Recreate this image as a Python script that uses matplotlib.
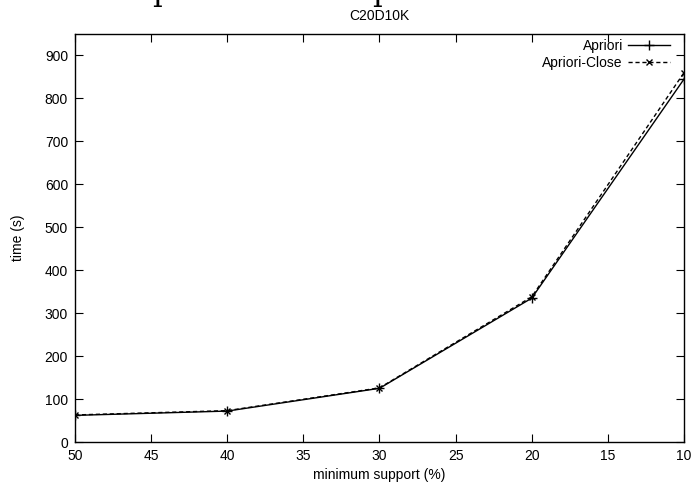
import matplotlib
matplotlib.use('Agg')
import matplotlib.pyplot as plt

support = [50, 40, 30, 20, 10]
apriori = [62, 72, 125, 335, 845]
apriori_close = [63, 73, 126, 338, 860]
xticks = [50, 45, 40, 35, 30, 25, 20, 15, 10]
yticks = [0, 100, 200, 300, 400, 500, 600, 700, 800, 900]

plt.rcParams['font.family'] = ['Liberation Sans', 'DejaVu Sans']
plt.rcParams['font.size'] = 10

fig = plt.figure(figsize=(6.94, 4.91), dpi=100)
ax = fig.add_axes([75/694, 49/491, 609/694, 408/491])

ax.plot(support, apriori, '-', color='black', lw=1.0, marker='+', ms=7, mew=1.0, label='Apriori')
ax.plot(support, apriori_close, '--', color='black', lw=1.0, dashes=(3, 2), marker='x', ms=5, mew=1.0,
        label='Apriori-Close')

ax.set_xlim(50, 10)
ax.set_ylim(0, 950)
ax.set_xticks(xticks)
ax.set_yticks(yticks)
ax.tick_params(direction='in', length=6, width=0.8, top=True, right=True, pad=5)
for s in ax.spines.values():
    s.set_linewidth(1.0)

ax.set_xlabel('minimum support (%)', labelpad=4)
ax.set_ylabel('time (s)', labelpad=14)
ax.set_title('C20D10K', fontsize=10, pad=10)

leg = ax.legend(loc='upper right', bbox_to_anchor=(1.0, 1.0 + 9/408), frameon=False, markerfirst=False,
                handlelength=3.0, handletextpad=0.4, labelspacing=0.2, borderaxespad=0.6, fontsize=10)
leg._legend_box.align = 'right'
for t in leg.get_texts():
    t.set_ha('right')

# clipped caption text from the page above the chart
for xp in [162, 382]:
    fig.text(xp/694, 1.0, 'p', family='DejaVu Serif', fontsize=22, va='baseline', ha='center')

fig.savefig('out.png', dpi=100)
